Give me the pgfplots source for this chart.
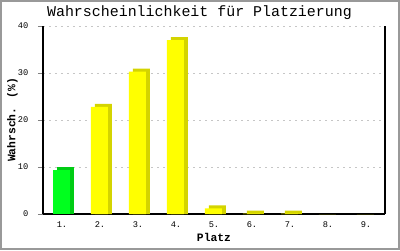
\documentclass[border=0pt]{standalone}
\usepackage{fontspec}
\setmainfont{Liberation Mono}
\usepackage{pgfplots}
\pgfplotsset{compat=1.18}
\definecolor{gfront}{RGB}{0,255,30}
\definecolor{gside}{RGB}{0,204,20}
\definecolor{yfront}{RGB}{255,255,0}
\definecolor{yside}{RGB}{212,212,0}
\definecolor{bordergray}{RGB}{153,153,153}
\begin{document}
\begin{tikzpicture}
\begin{axis}[
  scale only axis,
  width=256.5pt, height=141pt,
  xmin=0.5, xmax=9.5, ymin=0, ymax=40,
  axis x line=bottom, axis y line=box,
  x axis line style={-}, y axis line style={-},
  every axis/.append style={line width=0.8pt},
  xtick={1,...,9},
  xticklabels={1.,2.,3.,4.,5.,6.,7.,8.,9.},
  xtick style={draw=none},
  ytick={0,10,20,30,40},
  ytick pos=left,
  tick align=outside,
  major tick length=3.75pt,
  ymajorgrids,
  grid style={gray!45, dash pattern=on 1.5pt off 3pt, line width=0.6pt},
  /pgf/number format/assume math mode=true,
  tick label style={font=\fontsize{6.5}{7.5}\selectfont},
  xticklabel style={yshift=1.5pt},
  yticklabel style={xshift=-3.5pt},
  title={Wahrscheinlichkeit für Platzierung},
  every axis title/.style={at={(axis description cs:0.5,1)}, anchor=center, yshift=9.75pt, xshift=-10.9pt, font=\fontsize{11.2}{13}\selectfont},
  xlabel={Platz},
  every axis x label/.style={at={(axis description cs:0.5,0)}, anchor=center, yshift=-17.25pt, font=\bfseries\fontsize{8.5}{10}\selectfont},
  ylabel={Wahrsch. (\%)},
  every axis y label/.style={at={(axis description cs:0,0.5)}, xshift=-22.9pt, rotate=90, anchor=center, font=\bfseries\fontsize{8.5}{10}\selectfont},
  clip=false,
]
% back (side/top) bars: value + 3px offset
\addplot[ybar, bar width=12.75pt, bar shift=2.6pt, fill=gside, draw=none] coordinates {(1,10.04)};
\addplot[ybar, bar width=12.75pt, bar shift=2.6pt, fill=yside, draw=none] coordinates {(2,23.44) (3,30.94) (4,37.64) (5,1.84) (6,0.74) (7,0.74)};
% front bars
\addplot[ybar, bar width=12.75pt, bar shift=-0.4pt, fill=gfront, draw=none] coordinates {(1,9.4)};
\addplot[ybar, bar width=12.75pt, bar shift=-0.4pt, fill=yfront, draw=none] coordinates {(2,22.8) (3,30.3) (4,37.0) (5,1.2) (6,0.1) (7,0.1) (8,0) (9,0)};
\end{axis}
\useasboundingbox (-32.25pt,-27pt) rectangle (267.75pt,160.5pt);
\draw[bordergray, line width=1.5pt] (-31.5pt,-26.25pt) rectangle (267pt,159.75pt);
\end{tikzpicture}
\end{document}
